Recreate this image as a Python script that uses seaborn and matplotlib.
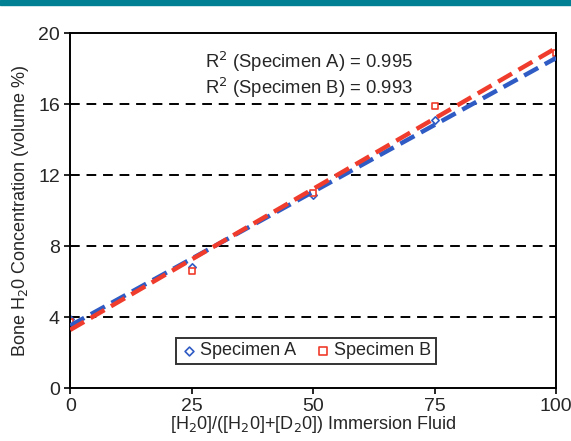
import numpy as np
import pandas as pd
import matplotlib
matplotlib.use("Agg")
import matplotlib.pyplot as plt
import seaborn as sns

# data
fluid = [0, 25, 50, 75, 100]
spec_a = [3.9, 6.8, 10.9, 15.1, 18.6]
spec_b = [3.7, 6.6, 11.0, 15.9, 18.9]
r2_a = 0.995
r2_b = 0.993

sns.set_style("white")
plt.rcParams["font.family"] = ["Liberation Sans", "DejaVu Sans"]

fig = plt.figure(figsize=(5.71, 4.41), dpi=100)
ax = fig.add_axes([0.123, 0.12, 0.851, 0.805])

# teal header strip
fig.patches.append(plt.Rectangle((0, 0.988), 1, 0.012, transform=fig.transFigure,
                                 color="#008092", zorder=10))

blue = "#2f5bc4"
red = "#f03c2c"

for yv in [4, 8, 12, 16]:
    ax.axhline(yv, color="black", lw=1.4, ls=(0, (5, 3.5)), zorder=1)

sns.regplot(x=fluid, y=spec_a, ci=None, ax=ax, scatter=False,
            line_kws=dict(color=blue, lw=3.2, ls=(0, (3.6, 1.7)), zorder=3))
sns.regplot(x=fluid, y=spec_b, ci=None, ax=ax, scatter=False,
            line_kws=dict(color=red, lw=3.2, ls=(0, (3.6, 1.7)), zorder=4))

sns.scatterplot(x=fluid, y=spec_a, marker="D", s=14, facecolor="white",
                edgecolor=blue, linewidth=1.2, ax=ax, zorder=2, label="Specimen A")
sns.scatterplot(x=fluid, y=spec_b, marker="s", s=18, facecolor="white",
                edgecolor=red, linewidth=1.2, ax=ax, zorder=2, label="Specimen B")

ax.set_xlim(0, 100)
ax.set_ylim(0, 20)
ax.set_xticks([0, 25, 50, 75, 100])
ax.set_yticks([0, 4, 8, 12, 16, 20])
ax.tick_params(direction="out", length=4, width=1.2, labelsize=14,
               bottom=True, left=True, color="black")
for sp in ax.spines.values():
    sp.set_color("black")
    sp.set_linewidth(1.4)

ax.set_xlabel("[H$_2$0]/([H$_2$0]+[D$_2$0]) Immersion Fluid", fontsize=13, labelpad=-1)
ax.set_ylabel("Bone H$_2$0 Concentration (volume %)", fontsize=13, labelpad=5)

ax.text(27.8, 18.4, f"R$^2$ (Specimen A) = {r2_a}", fontsize=13.3, va="center")
ax.text(27.8, 16.9, f"R$^2$ (Specimen B) = {r2_b}", fontsize=13.3, va="center")

leg = ax.legend(loc="center", bbox_to_anchor=(0.485, 0.105), ncol=2, fontsize=13,
                frameon=True, fancybox=False, handletextpad=0.1, columnspacing=1.0,
                borderpad=0.25, handlelength=1.0, markerscale=1.2)
leg.get_frame().set_edgecolor("black")
leg.get_frame().set_linewidth(1.4)

fig.savefig("out.png", dpi=100)
